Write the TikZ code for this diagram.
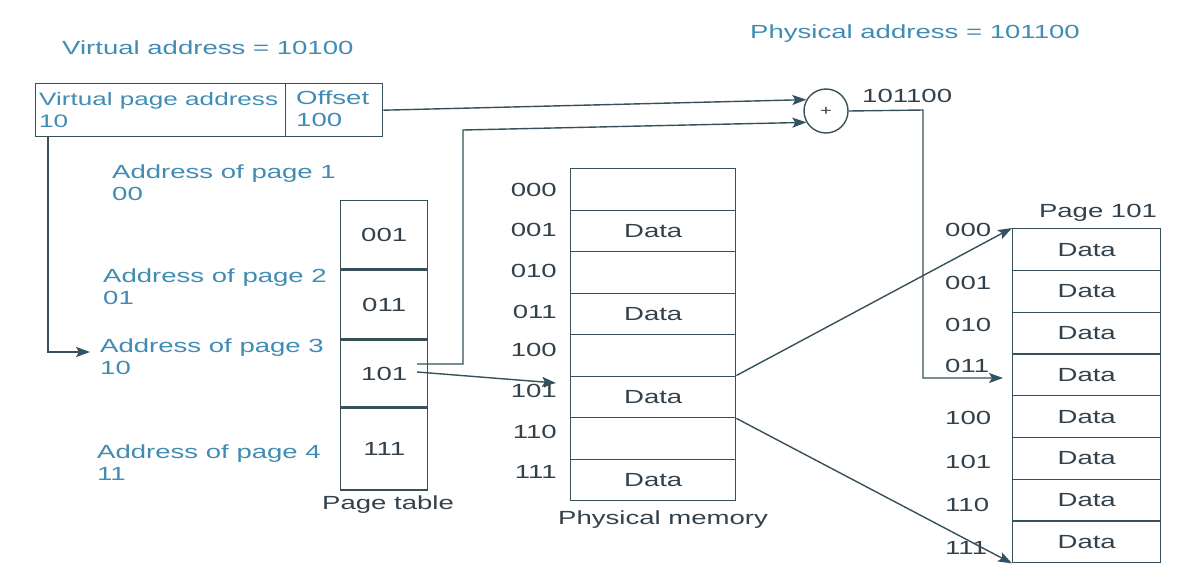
\documentclass[tikz,border=0pt]{standalone}
\usepackage{fontspec}
\setmainfont{Liberation Sans}[FakeStretch=1.45]
\usetikzlibrary{arrows.meta}
\definecolor{lblue}{RGB}{65,140,180}
\definecolor{dgray}{RGB}{50,65,75}
\definecolor{linec}{RGB}{55,80,90}
\definecolor{arrc}{RGB}{30,90,115}
\begin{document}
\begin{tikzpicture}[x=1pt,y=-1pt, font=\fontsize{19}{22}\selectfont,
 box/.style={draw=linec, line width=1.4pt, inner sep=0pt, text=dgray},
 arr/.style={draw=linec, line width=1.4pt, -{Stealth[length=14pt,width=10pt,fill=arrc,inset=3pt]}},
 blbl/.style={text=lblue, inner sep=0pt},
 dlbl/.style={text=dgray, inner sep=0pt}]
\useasboundingbox[fill=white] (0,0) rectangle (1198,581);

% titles
\node[blbl, anchor=west] (vaddr) at (62,48) {Virtual address = 10100};
\node[blbl, anchor=west] (paddr) at (750,34) {Physical address = 101100};

% virtual address box
\node[box, minimum width=250, minimum height=53, anchor=north west] (vpa) at (35,83) {};
\node[box, minimum width=97, minimum height=53, anchor=north west] (off) at (285,83) {};
\node[blbl, anchor=west, align=left, font=\fontsize{18}{22}\selectfont] (vpat) at (39,110) {Virtual page address\\10};
\node[blbl, anchor=west, align=left] (offt) at (296,109) {Offset\\100};

% address labels
\node[blbl, anchor=west, align=left] (ap1) at (112,183) {Address of page 1\\00};
\node[blbl, anchor=west, align=left] (ap2) at (103,287) {Address of page 2\\01};
\node[blbl, anchor=west, align=left] (ap3) at (100,357) {Address of page 3\\10};
\node[blbl, anchor=west, align=left] (ap4) at (97,463) {Address of page 4\\11};

% page table
\node[box, minimum width=87, minimum height=68, anchor=north west] (pt1) at (340,200) {001};
\node[box, minimum width=87, minimum height=69, anchor=north] (pt2) at (pt1.south) {011};
\node[box, minimum width=87, minimum height=66, anchor=north] (pt3) at (pt2.south) {101};
\node[box, minimum width=87, minimum height=82, anchor=north] (pt4) at (pt3.south) {111};
\node[dlbl] (ptl) at (388,505) {Page table};

% physical memory
\foreach \i/\t in {1/{},2/Data,3/{},4/Data,5/{},6/Data,7/{},8/Data}
  \node[box, minimum width=165, minimum height=41.5, anchor=north west] (m\i) at (570,{168+41.5*(\i-1)}) {\t};
\foreach \i/\t/\y in {1/000/190,2/001/230,3/010/271,4/011/312,5/100/350,6/101/391,7/110/432,8/111/472}
  \node[dlbl, anchor=east] (ml\i) at (557,\y) {\t};
\node[dlbl] (pml) at (663,520) {Physical memory};

% page 101
\foreach \i in {1,...,8}
  \node[box, minimum width=148, minimum height=41.75, anchor=north west] (p\i) at (1012,{228+41.75*(\i-1)}) {Data};
\foreach \i/\t/\y in {1/000/230,2/001/283,3/010/325,4/011/366,5/100/418,6/101/462,7/110/505,8/111/548}
  \node[dlbl, anchor=west] (pl\i) at (945,\y) {\t};
\node[dlbl] (p101) at (1098,213) {Page 101};

% adder
\node[draw=linec, line width=1.4pt, circle, minimum size=44pt, inner sep=0pt, text=dgray, font=\fontsize{14}{14}\selectfont] (plus) at (826,111) {+};
\node[dlbl, anchor=west] (res) at (862,96) {101100};

% connectors
\draw[arr] (off.east) -- (plus.150);
\coordinate (s1) at (417,364);
\coordinate (j1) at (463,364);
\coordinate (j2) at (463,130);
\draw[arr] (s1) -- (j1) -- (j2) -- (plus.210);
\coordinate (s2) at (417,372);
\coordinate (e2) at (556,383);
\draw[arr] (s2) -- (e2);
\coordinate (k1) at (923,110);
\coordinate (k2) at (923,378);
\coordinate (e3) at (1003,378);
\draw[arr] (plus.east) -- (k1) -- (k2) -- (e3);
\draw[arr] (m6.north east) -- (p1.north west);
\draw[arr] (m6.south east) -- (p8.south west);
\coordinate (v0) at ([xshift=13pt]vpa.south west);
\coordinate (v1) at (48,352);
\coordinate (a3) at (90,352);
\draw[arr] (v0) -- (v1) -- (a3);
\end{tikzpicture}
\end{document}
